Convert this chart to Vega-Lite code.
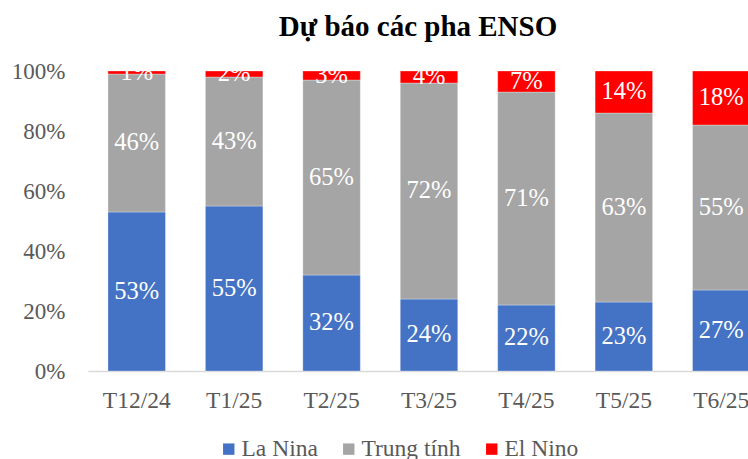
{
  "$schema": "https://vega.github.io/schema/vega-lite/v6.json",
  "autosize": {"type": "none"},
  "width": 660,
  "height": 300,
  "padding": {"left": 88, "top": 71, "right": 0, "bottom": 88},
  "background": "white",
  "title": {
    "text": "Dự báo các pha ENSO",
    "font": "Liberation Serif",
    "fontSize": 29,
    "fontWeight": "bold",
    "color": "#000000",
    "anchor": "middle",
    "offset": 18
  },
  "config": {"view": {"stroke": null}},
  "data": {
    "values": [
      {"month": "T12/24", "phase": "La Nina", "ord": 1, "value": 53},
      {"month": "T12/24", "phase": "Trung tính", "ord": 2, "value": 46},
      {"month": "T12/24", "phase": "El Nino", "ord": 3, "value": 1},
      {"month": "T1/25", "phase": "La Nina", "ord": 1, "value": 55},
      {"month": "T1/25", "phase": "Trung tính", "ord": 2, "value": 43},
      {"month": "T1/25", "phase": "El Nino", "ord": 3, "value": 2},
      {"month": "T2/25", "phase": "La Nina", "ord": 1, "value": 32},
      {"month": "T2/25", "phase": "Trung tính", "ord": 2, "value": 65},
      {"month": "T2/25", "phase": "El Nino", "ord": 3, "value": 3},
      {"month": "T3/25", "phase": "La Nina", "ord": 1, "value": 24},
      {"month": "T3/25", "phase": "Trung tính", "ord": 2, "value": 72},
      {"month": "T3/25", "phase": "El Nino", "ord": 3, "value": 4},
      {"month": "T4/25", "phase": "La Nina", "ord": 1, "value": 22},
      {"month": "T4/25", "phase": "Trung tính", "ord": 2, "value": 71},
      {"month": "T4/25", "phase": "El Nino", "ord": 3, "value": 7},
      {"month": "T5/25", "phase": "La Nina", "ord": 1, "value": 23},
      {"month": "T5/25", "phase": "Trung tính", "ord": 2, "value": 63},
      {"month": "T5/25", "phase": "El Nino", "ord": 3, "value": 14},
      {"month": "T6/25", "phase": "La Nina", "ord": 1, "value": 27},
      {"month": "T6/25", "phase": "Trung tính", "ord": 2, "value": 55},
      {"month": "T6/25", "phase": "El Nino", "ord": 3, "value": 18}
    ]
  },
  "transform": [
    {"stack": "value", "groupby": ["month"], "sort": [{"field": "ord", "order": "ascending"}], "as": ["y0", "y1"]},
    {"calculate": "(datum.y0 + datum.y1) / 2", "as": "ymid"},
    {"calculate": "datum.value + '%'", "as": "label"}
  ],
  "encoding": {
    "x": {
      "field": "month",
      "type": "nominal",
      "sort": ["T12/24", "T1/25", "T2/25", "T3/25", "T4/25", "T5/25", "T6/25"],
      "scale": {"range": [0, 682], "paddingInner": 0.41, "paddingOuter": 0.205},
      "axis": {
        "title": null,
        "labelAngle": 0,
        "labelFont": "Liberation Serif",
        "labelFontSize": 23.5,
        "labelColor": "#595959",
        "labelPadding": 17,
        "ticks": false,
        "domainColor": "#d9d9d9",
        "domainWidth": 1.5,
        "grid": false
      }
    }
  },
  "layer": [
    {
      "mark": {"type": "bar", "stroke": "#ffffff", "strokeWidth": 0.5, "strokeOpacity": 0.6},
      "encoding": {
        "y": {
          "field": "y0",
          "type": "quantitative",
          "scale": {"domain": [0, 100], "nice": false},
          "axis": {
            "title": null,
            "values": [0, 20, 40, 60, 80, 100],
            "labelExpr": "datum.value + '%'",
            "labelFont": "Liberation Serif",
            "labelFontSize": 23,
            "labelColor": "#595959",
            "labelPadding": 23,
            "ticks": false,
            "domain": false,
            "grid": false
          }
        },
        "y2": {"field": "y1"},
        "color": {
          "field": "phase",
          "type": "nominal",
          "sort": ["La Nina", "Trung tính", "El Nino"],
          "scale": {"domain": ["La Nina", "Trung tính", "El Nino"], "range": ["#4472C4", "#A5A5A5", "#FF0000"]},
          "legend": {
            "title": null,
            "orient": "none",
            "direction": "horizontal",
            "legendX": 129,
            "legendY": 366,
            "symbolType": "square",
            "symbolSize": 130,
            "symbolStrokeWidth": 0,
            "labelFont": "Liberation Serif",
            "labelFontSize": 23.5,
            "labelColor": "#595959",
            "labelOffset": 1,
            "columnPadding": 19
          }
        }
      }
    },
    {
      "mark": {"type": "text", "font": "Liberation Serif", "fontSize": 24.5, "color": "#ffffff", "baseline": "middle"},
      "encoding": {
        "y": {"field": "ymid", "type": "quantitative"},
        "text": {"field": "label", "type": "nominal"},
        "detail": {"field": "phase"}
      }
    }
  ]
}
